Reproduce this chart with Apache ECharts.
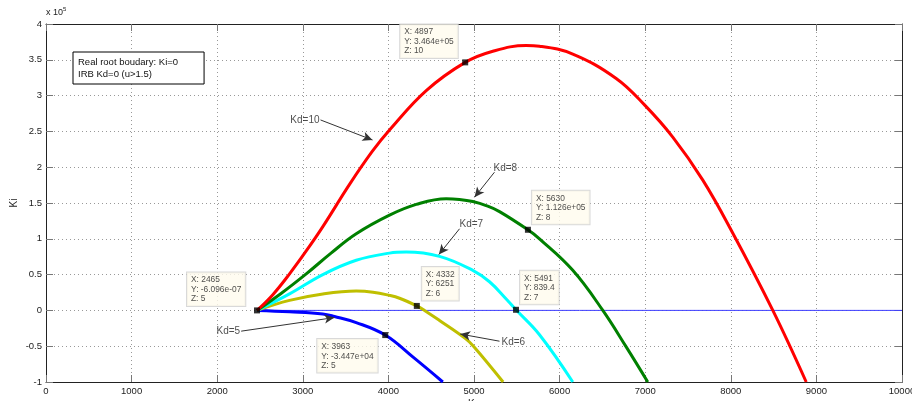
<!DOCTYPE html>
<html>
<head>
<meta charset="utf-8">
<script src="https://cdn.jsdelivr.net/npm/echarts@6/dist/echarts.min.js"></script>
<style>
html,body{margin:0;padding:0;background:#fff}
#chart{width:912px;height:401px}
</style>
</head>
<body>
<div id="chart"></div>
<script>
// Ki values are in units of 1e5 (axis shows "x 10^5")
var kp10 = [2465, 2650, 2845, 3040, 3234, 3546, 3811, 4013, 4442, 4897, 5220, 5610, 5765, 6154, 6661, 6992, 7322, 7673, 8005, 8491, 8881];
var ki10 = [0, 0.22, 0.51, 0.83, 1.17, 1.76, 2.22, 2.52, 3.07, 3.464, 3.62, 3.70, 3.69, 3.58, 3.24, 2.87, 2.42, 1.82, 1.12, 0, -1.0];

var kp8 = [2465, 2750, 3040, 3330, 3624, 4013, 4325, 4675, 4830, 4986, 5150, 5298, 5630, 5765, 6154, 6505, 6778, 7030];
var ki8 = [0, 0.24, 0.51, 0.80, 1.07, 1.33, 1.48, 1.56, 1.55, 1.52, 1.46, 1.38, 1.126, 1.00, 0.56, 0, -0.51, -1.0];

var kp7 = [2465, 2845, 3234, 3624, 4013, 4208, 4597, 4986, 5181, 5376, 5491, 5765, 6154];
var ki7 = [0, 0.23, 0.50, 0.70, 0.80, 0.815, 0.755, 0.56, 0.40, 0.16, 0.0084, -0.34, -1.0];

var kp6 = [2465, 2845, 3234, 3624, 3820, 4013, 4130, 4332, 4422, 4597, 4897, 4994, 5340];
var ki6 = [0, 0.14, 0.23, 0.27, 0.255, 0.21, 0.17, 0.0625, 0, -0.14, -0.39, -0.50, -1.0];

var kp5 = [2465, 2845, 3234, 3370, 3624, 3963, 4285, 4636];
var ki5 = [0, -0.02, -0.05, -0.085, -0.17, -0.3447, -0.65, -1.0];

var zeroKp = [2465, 10000];
var zeroKi = [0, 0];

// data tips
var tipKp = [4897, 2465, 3963, 4332, 5491, 5630];
var tipKi = [346400, -6.096e-7, -34470, 6251, 839.4, 112600];
var tipKd = [10, 5, 5, 6, 7, 8];
var tipPos = [[-62, -35], [-67, -35], [-65, 7], [8, -36], [7, -36], [7, -36]];

// arrow annotations
var annText = ['Kd=10', 'Kd=8', 'Kd=7', 'Kd=6', 'Kd=5'];
var annFrom = [[3207, 2.66], [5239, 1.93], [4831, 1.14], [5298, -0.43], [2280, -0.29]];
var annTo = [[3814, 2.38], [5006, 1.58], [4589, 0.78], [4839, -0.33], [3370, -0.10]];
var annAlign = [['right', 'middle', -1, 0], ['left', 'bottom', -1, 1], ['left', 'bottom', 0, 0], ['left', 'middle', 2, 1], ['right', 'middle', -1, 0]];

var legendNames = ['Real root boudary: Ki=0', 'IRB Kd=0 (u>1.5)'];

function pairs(xs, ys) {
  return xs.map(function (x, i) { return [x, ys[i]]; });
}

// MATLAB-like %.4g
function g4(v) {
  var a = Math.abs(v);
  var e = a > 0 ? Math.floor(Math.log10(a)) : 0;
  if (e >= 4 || e < -4) {
    var m = v.toExponential(3).split('e');
    var ex = parseInt(m[1], 10);
    return m[0] + 'e' + (ex < 0 ? '-' : '+') + (Math.abs(ex) < 10 ? '0' : '') + Math.abs(ex);
  }
  return String(parseFloat(v.toPrecision(4)));
}

var font = 'Liberation Sans, Arial, sans-serif';

function curve(name, xs, ys, color) {
  return {
    name: name, type: 'line', data: pairs(xs, ys),
    smooth: 0.4, showSymbol: false, silent: true,
    lineStyle: { color: color, width: 3 }, z: 3
  };
}

var myChart = echarts.init(document.getElementById('chart'));

var tipData = tipKp.map(function (x, i) {
  return {
    value: [x, tipKi[i] / 1e5],
    label: { position: tipPos[i] },
    txt: 'X: ' + x + '\nY: ' + g4(tipKi[i]) + '\nZ: ' + tipKd[i]
  };
});

var arrowData = annText.map(function (t, i) {
  return [{ coord: annFrom[i] }, { coord: annTo[i] }];
});

var annData = annText.map(function (t, i) {
  var a = annAlign[i];
  return {
    name: t, value: annFrom[i],
    label: { align: a[0], verticalAlign: a[1], offset: [a[2], a[3]] }
  };
});

var tickStyle = { inside: true, length: 7, lineStyle: { color: '#777' } };
var gridLine = { show: true, lineStyle: { color: '#999', type: [1, 3] } };

var options = {
  backgroundColor: '#fff',
  animation: false,
  textStyle: { fontFamily: font },
  title: {
    text: 'x 10{s|5}', left: 46, top: 6, padding: 0,
    textStyle: {
      fontSize: 9, fontWeight: 'normal', color: '#222', fontFamily: font,
      rich: { s: { fontSize: 6, padding: [0, 0, 7, 0], color: '#222', fontFamily: font } }
    }
  },
  grid: { left: 46, right: 10, top: 24, bottom: 19, outerBoundsMode: 'none' },
  legend: {
    data: legendNames.map(function (n) { return { name: n, icon: 'rect' }; }),
    orient: 'vertical',
    left: 73, top: 52,
    itemWidth: 0, itemHeight: 0, itemGap: 2,
    padding: [5, 26, 5, 0],
    backgroundColor: '#fff', borderColor: '#000', borderWidth: 1,
    selectedMode: false,
    textStyle: { fontSize: 9.5, color: '#111', fontFamily: font }
  },
  xAxis: [{
    type: 'value', min: 0, max: 10000, interval: 1000,
    name: 'Kp', nameLocation: 'middle', nameGap: 17, nameMoveOverlap: false,
    nameTextStyle: { fontSize: 10, color: '#222' },
    axisLine: { onZero: false, lineStyle: { color: '#222' } },
    axisTick: tickStyle,
    axisLabel: { fontSize: 9.5, color: '#222', margin: 4, formatter: function (v) { return String(v); } },
    splitLine: gridLine
  }, {
    type: 'value', position: 'top', min: 0, max: 10000, interval: 1000,
    axisLine: { onZero: false, lineStyle: { color: '#222' } },
    axisTick: tickStyle,
    axisLabel: { show: false }, splitLine: { show: false }
  }],
  yAxis: [{
    type: 'value', min: -1, max: 4, interval: 0.5,
    name: 'Ki', nameLocation: 'middle', nameGap: 27, nameMoveOverlap: false,
    nameTextStyle: { fontSize: 10, color: '#222' },
    axisLine: { onZero: false, lineStyle: { color: '#222' } },
    axisTick: tickStyle,
    axisLabel: { fontSize: 9.5, color: '#222', margin: 4 },
    splitLine: gridLine
  }, {
    type: 'value', position: 'right', min: -1, max: 4, interval: 0.5,
    axisLine: { onZero: false, lineStyle: { color: '#222' } },
    axisTick: tickStyle,
    axisLabel: { show: false }, splitLine: { show: false }
  }],
  series: [
    {
      name: legendNames[0], type: 'line', data: pairs(zeroKp, zeroKi),
      showSymbol: false, silent: true,
      lineStyle: { color: '#3d3dff', width: 1 }, z: 2
    },
    { name: legendNames[1], type: 'line', data: [] },
    curve('Kd=5', kp5, ki5, '#0000ff'),
    curve('Kd=6', kp6, ki6, '#bfbf00'),
    curve('Kd=7', kp7, ki7, '#00ffff'),
    curve('Kd=8', kp8, ki8, '#008000'),
    curve('Kd=10', kp10, ki10, '#ff0000'),
    {
      name: 'arrows', type: 'scatter', data: annData, silent: true,
      symbolSize: 0,
      label: { show: true, position: 'inside', formatter: '{b}', fontSize: 10, color: '#222', fontFamily: font },
      markLine: {
        silent: true, animation: false,
        symbol: ['none', 'arrow'], symbolSize: [7, 10],
        lineStyle: { color: '#333', width: 1, type: 'solid' },
        label: { show: false },
        data: arrowData
      }
    },
    {
      name: 'tips', type: 'scatter', data: tipData, z: 10,
      symbol: 'rect', symbolSize: 6, silent: true,
      itemStyle: { color: '#000' },
      label: {
        show: true, align: 'left', verticalAlign: 'top',
        formatter: function (p) { return p.data.txt; },
        fontSize: 8.4, lineHeight: 9.5, color: '#222', fontFamily: font,
        backgroundColor: '#fffbee', borderColor: '#cfcfcf', borderWidth: 1,
        padding: [3, 4, 2, 4]
      }
    }
  ]
};

myChart.setOption(options);
</script>
</body>
</html>
